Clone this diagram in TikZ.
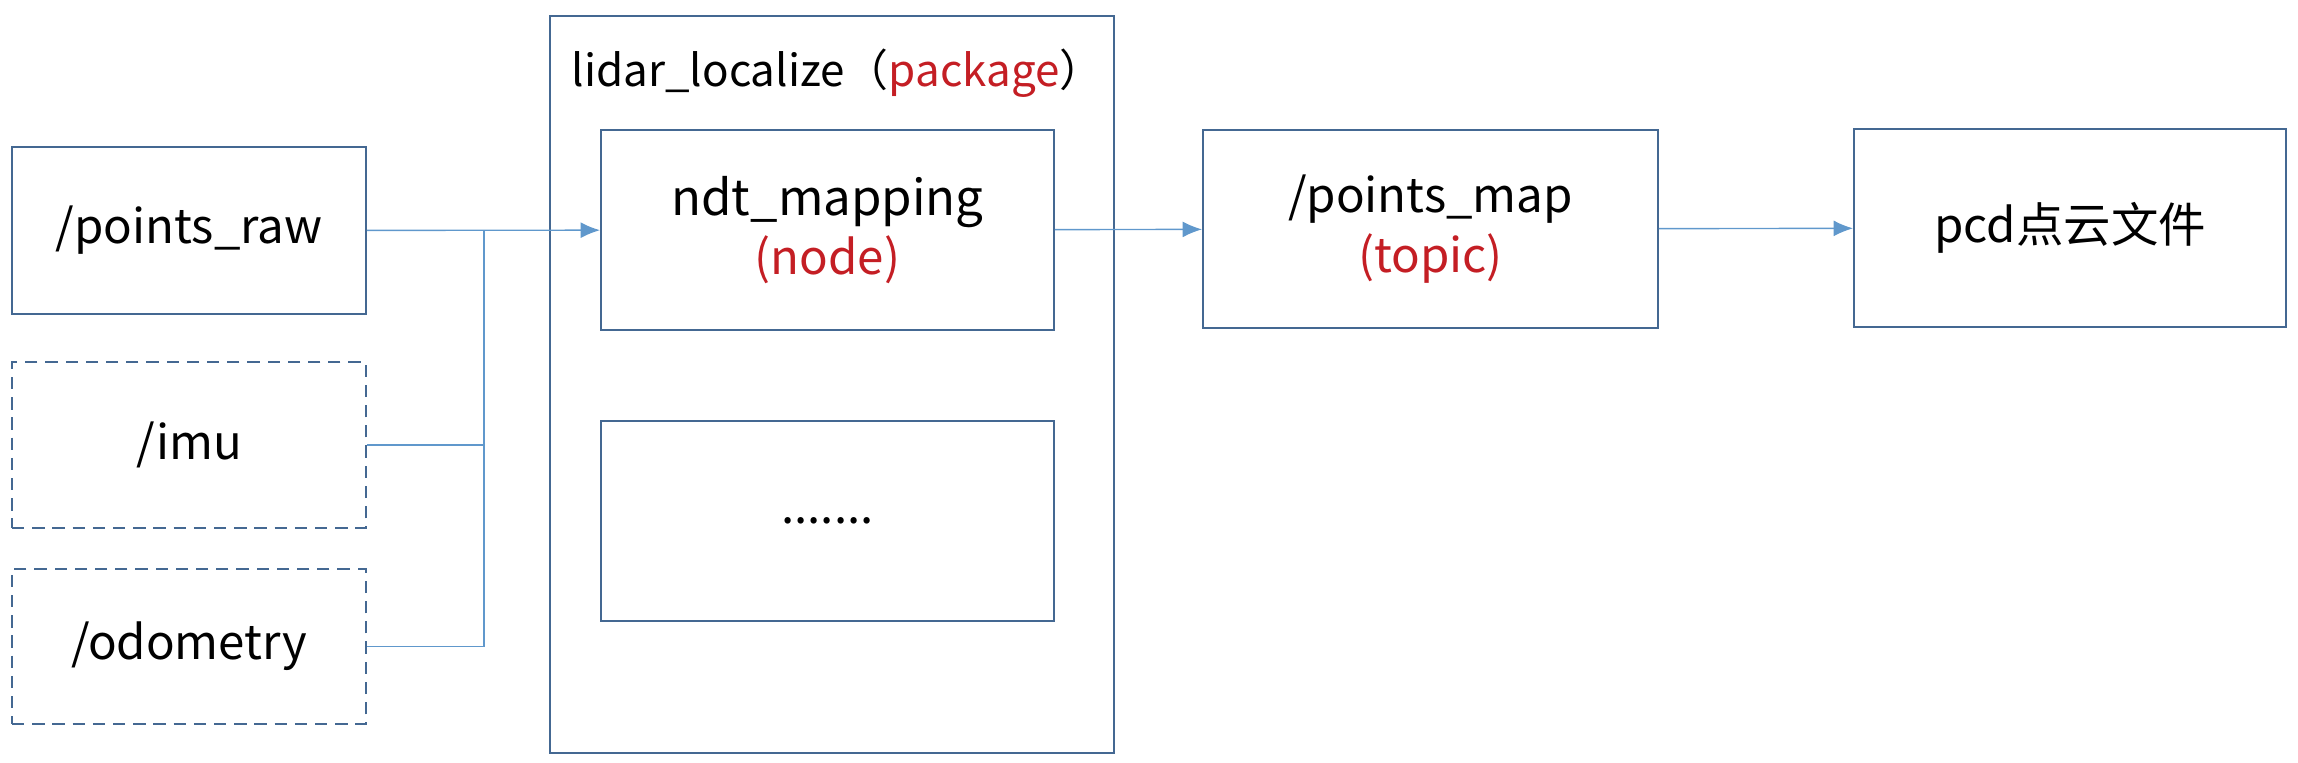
\documentclass[tikz,border=0pt]{standalone}
\usepackage{fontspec}
\setmainfont{Noto Sans CJK SC}
\usepackage{xcolor}
\usepackage{tikz}
\usetikzlibrary{arrows.meta}
\definecolor{rosline}{RGB}{68,104,146}
\definecolor{rosarrow}{RGB}{96,152,204}
\definecolor{rosred}{RGB}{196,30,36}
\newcommand{\rtag}[1]{{\color{rosred}#1}}

\begin{document}
\begin{tikzpicture}[x=0.02cm,y=-0.02cm,line width=1.1pt,
  font=\fontsize{27}{31}\selectfont,
  box/.style={draw=rosline,minimum width=#1*0.02cm,inner sep=0pt,align=center},
  box/.default=354,
  optbox/.style={box,dash pattern=on 7pt off 4.5pt},
  flow/.style={draw=rosarrow,line width=0.8pt},
  tip/.style={flow,-{Latex[length=11pt,width=9pt]}}]
\useasboundingbox (0,0) rectangle (2298,763);
% ---------------- inputs ----------------
\node[box,minimum height=167*0.02cm] (raw) at (189,230.5) {/points\_raw};
\node[optbox,minimum height=166*0.02cm] (imu) at (189,445) {/imu};
\node[optbox,minimum height=155*0.02cm] (odom) at (189,646.5) {/odometry};
% ---------------- package ----------------
\node[box=564,minimum height=737*0.02cm] (pkg) at (832,384.5) {};
\node[anchor=west,font=\fontsize{25}{29}\selectfont] (pkgname) at (565,73) {lidar\_localize（\rtag{package}）};
\node[box=453,minimum height=200*0.02cm] (ndt) at (827.5,230) {\fontsize{28}{32}\selectfont ndt\_mapping\\[3pt]\rtag{(node)}};
\node[box=453,minimum height=200*0.02cm] (more) at (827.5,521) {.......};
% ---------------- outputs ----------------
\node[box=455,minimum height=198*0.02cm] (map) at (1430.5,229) {/points\_map\\[3pt]\rtag{(topic)}};
\node[box=432,minimum height=198*0.02cm] (pcd) at (2070,228) {pcd点云文件};
% ---------------- connectors ----------------
\coordinate (jn) at (484,230.5);
\draw[flow] (imu) -- (imu -| jn) -- (jn);
\draw[flow] (odom) -- (odom -| jn) -- (jn);
\draw[tip] (raw) -- (ndt);
\draw[tip] (ndt) -- (map);
\draw[tip] (map) -- (pcd);
\end{tikzpicture}
\end{document}
